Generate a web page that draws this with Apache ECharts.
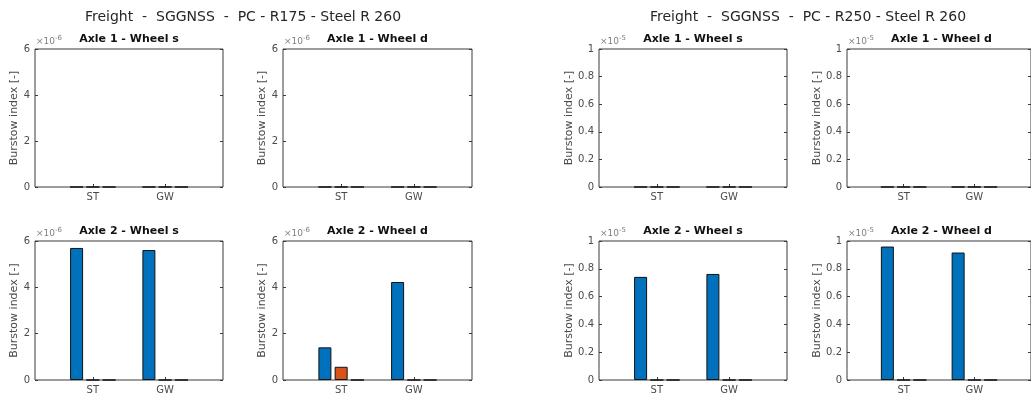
<!DOCTYPE html>
<html><head><meta charset="utf-8">
<script src="https://cdn.jsdelivr.net/npm/echarts@6/dist/echarts.min.js"></script>
<style>html,body{margin:0;padding:0;background:#fff;}#c{width:1031px;height:399px;}</style>
</head><body><div id="c"></div>
<script>
// ---- data ----
const categories = ['ST', 'GW'];
const categoryPos = [1, 2];
const suptitles = ['Freight  -  SGGNSS  -  PC - R175 - Steel R 260', 'Freight  -  SGGNSS  -  PC - R250 - Steel R 260'];
const panelTitles = ['Axle 1 - Wheel s', 'Axle 1 - Wheel d', 'Axle 2 - Wheel s', 'Axle 2 - Wheel d'];
const seriesNames = ['s1', 's2', 's3'];
// values in units of the axis multiplier (x10^-6 for R175, x10^-5 for R250)
const r175_a1s_s1 = [0, 0], r175_a1s_s2 = [0, 0], r175_a1s_s3 = [0, 0];
const r175_a1d_s1 = [0, 0], r175_a1d_s2 = [0, 0], r175_a1d_s3 = [0, 0];
const r175_a2s_s1 = [5.70, 5.61], r175_a2s_s2 = [0, 0], r175_a2s_s3 = [0, 0];
const r175_a2d_s1 = [1.41, 4.23], r175_a2d_s2 = [0.57, 0], r175_a2d_s3 = [0, 0];
const r250_a1s_s1 = [0, 0], r250_a1s_s2 = [0, 0], r250_a1s_s3 = [0, 0];
const r250_a1d_s1 = [0, 0], r250_a1d_s2 = [0, 0], r250_a1d_s3 = [0, 0];
const r250_a2s_s1 = [0.742, 0.763], r250_a2s_s2 = [0, 0], r250_a2s_s3 = [0, 0];
const r250_a2d_s1 = [0.96, 0.917], r250_a2d_s2 = [0, 0], r250_a2d_s3 = [0, 0];
const r175_yTicks = [0, 2, 4, 6];
const r250_yTicks = [0, 0.2, 0.4, 0.6, 0.8, 1];
const r175_exp = '-6', r250_exp = '-5';

// ---- layout ----
const colors = ['#0072BD', '#D95319', '#EDB120'];
const FONT = 'DejaVu Sans';
const panels = [
  {left: 35, top: 49, width: 188, height: 138, title: panelTitles[0], data: [r175_a1s_s1, r175_a1s_s2, r175_a1s_s3], ticks: r175_yTicks, exp: r175_exp, nameGap: 14},
  {left: 283, top: 49, width: 189, height: 138, title: panelTitles[1], data: [r175_a1d_s1, r175_a1d_s2, r175_a1d_s3], ticks: r175_yTicks, exp: r175_exp, nameGap: 14},
  {left: 35, top: 241, width: 188, height: 139, title: panelTitles[2], data: [r175_a2s_s1, r175_a2s_s2, r175_a2s_s3], ticks: r175_yTicks, exp: r175_exp, nameGap: 14},
  {left: 283, top: 241, width: 189, height: 139, title: panelTitles[3], data: [r175_a2d_s1, r175_a2d_s2, r175_a2d_s3], ticks: r175_yTicks, exp: r175_exp, nameGap: 14},
  {left: 599, top: 49, width: 188, height: 138, title: panelTitles[0], data: [r250_a1s_s1, r250_a1s_s2, r250_a1s_s3], ticks: r250_yTicks, exp: r250_exp, nameGap: 23},
  {left: 847, top: 49, width: 189, height: 138, title: panelTitles[1], data: [r250_a1d_s1, r250_a1d_s2, r250_a1d_s3], ticks: r250_yTicks, exp: r250_exp, nameGap: 23},
  {left: 599, top: 241, width: 188, height: 139, title: panelTitles[2], data: [r250_a2s_s1, r250_a2s_s2, r250_a2s_s3], ticks: r250_yTicks, exp: r250_exp, nameGap: 23},
  {left: 847, top: 241, width: 189, height: 139, title: panelTitles[3], data: [r250_a2d_s1, r250_a2d_s2, r250_a2d_s3], ticks: r250_yTicks, exp: r250_exp, nameGap: 23}
];

const option = {animation: false, grid: [], xAxis: [], yAxis: [], series: [], title: []};
option.title.push({text: suptitles[0], left: 243, top: 10, padding: 0, textAlign: 'center', textStyle: {fontFamily: FONT, fontSize: 14, fontWeight: 'normal', color: '#262626'}});
option.title.push({text: suptitles[1], left: 808, top: 10, padding: 0, textAlign: 'center', textStyle: {fontFamily: FONT, fontSize: 14, fontWeight: 'normal', color: '#262626'}});

panels.forEach((p, i) => {
  option.grid.push({left: p.left, top: p.top, width: p.width, height: p.height, show: true, borderColor: '#3a3a3a', borderWidth: 1, backgroundColor: '#fff', containLabel: false});
  option.xAxis.push({
    type: 'value', gridIndex: i, min: 0.2, max: 2.8,
    axisLine: {show: false}, splitLine: {show: false},
    axisTick: {show: true, inside: true, length: 3, customValues: categoryPos, lineStyle: {color: '#3a3a3a'}},
    axisLabel: {show: true, customValues: categoryPos, margin: 5, fontFamily: FONT, fontSize: 10, color: '#4a4a4a',
      formatter: v => categories[categoryPos.indexOf(Math.round(v))] || ''}
  });
  const tmax = p.ticks[p.ticks.length - 1];
  const tint = p.ticks[1] - p.ticks[0];
  option.yAxis.push({
    type: 'value', gridIndex: i, min: 0, max: tmax, interval: tint, position: 'left',
    name: 'Burstow index [-]', nameLocation: 'middle', nameGap: p.nameGap,
    nameTextStyle: {fontFamily: FONT, fontSize: 11, color: '#4a4a4a'},
    axisLine: {show: false}, splitLine: {show: false},
    axisTick: {show: true, inside: true, length: 3, lineStyle: {color: '#3a3a3a'}},
    axisLabel: {margin: 5, fontFamily: FONT, fontSize: 10, color: '#4a4a4a', formatter: v => String(parseFloat(v.toFixed(2)))}
  });
  option.yAxis.push({
    type: 'value', gridIndex: i, min: 0, max: tmax, interval: tint, position: 'right',
    axisLine: {show: false}, splitLine: {show: false},
    axisTick: {show: true, inside: true, length: 3, lineStyle: {color: '#3a3a3a'}},
    axisLabel: {show: false}
  });
  option.title.push({text: p.title, left: p.left + p.width / 2, top: p.top - 15, padding: 0, textAlign: 'center',
    textStyle: {fontFamily: FONT, fontSize: 11, fontWeight: 'bold', color: '#111'}});
  option.title.push({text: '{a|×10}{b|' + p.exp + '}', left: p.left + 1, top: p.top - 14, padding: 0,
    textStyle: {fontWeight: 'normal', rich: {a: {fontFamily: FONT, fontSize: 9, fontWeight: 'normal', color: '#808080'}, b: {fontFamily: FONT, fontSize: 7, fontWeight: 'normal', color: '#808080', padding: [0, 0, 6, 0]}}}});
  p.data.forEach((vals, s) => {
    option.series.push({
      type: 'bar', name: seriesNames[s], xAxisIndex: i, yAxisIndex: i * 2,
      barWidth: 13, barGap: '25%',
      data: vals.map((v, k) => [categoryPos[k], v]),
      itemStyle: {color: colors[s], borderColor: '#111', borderWidth: 1}
    });
  });
});

const chart = echarts.init(document.getElementById('c'), null, {renderer: 'canvas'});
chart.setOption(option);
</script></body></html>
